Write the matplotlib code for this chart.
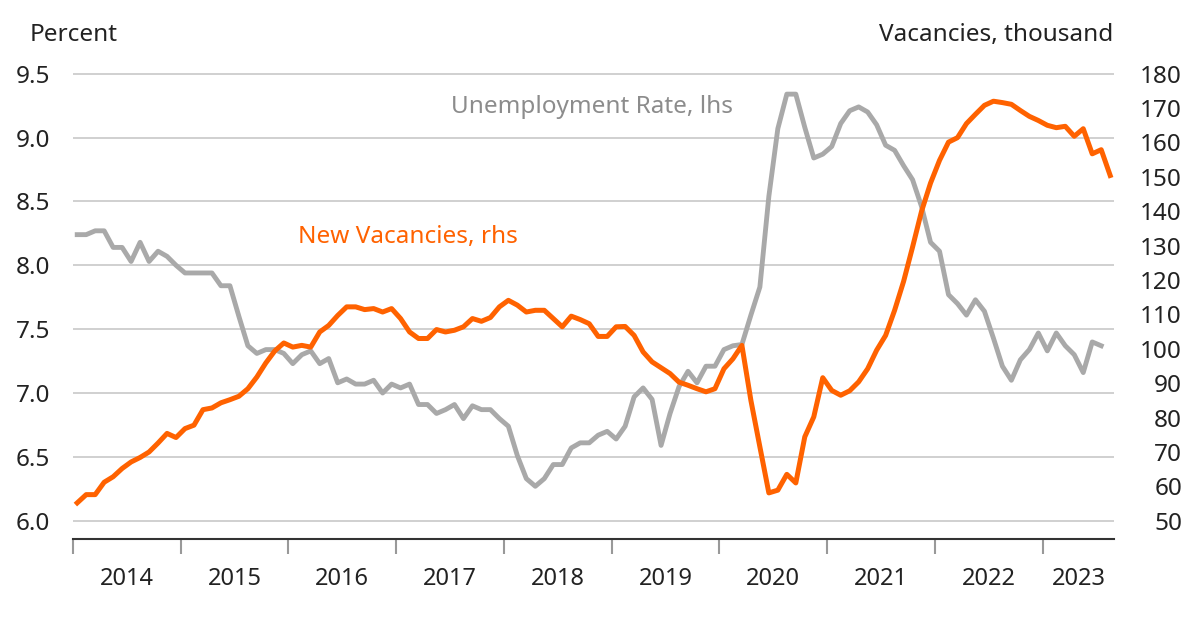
import numpy as np
import matplotlib
matplotlib.use("Agg")
from matplotlib import pyplot as plt
from matplotlib.ticker import FixedLocator, NullFormatter

plt.rcParams['font.family'] = ['Noto Sans', 'DejaVu Sans']

# monthly data, Jan 2014 onwards
unemployment = [
    8.24, 8.24, 8.27, 8.27, 8.14, 8.14, 8.03, 8.18, 8.03, 8.11, 8.07, 8.00,
    7.94, 7.94, 7.94, 7.94, 7.84, 7.84, 7.60, 7.37, 7.31, 7.34, 7.34, 7.31,
    7.23, 7.30, 7.33, 7.23, 7.27, 7.08, 7.11, 7.07, 7.07, 7.10, 7.00, 7.07,
    7.04, 7.07, 6.91, 6.91, 6.84, 6.87, 6.91, 6.80, 6.90, 6.87, 6.87, 6.80,
    6.74, 6.51, 6.33, 6.27, 6.33, 6.44, 6.44, 6.57, 6.61, 6.61, 6.67, 6.70,
    6.64, 6.74, 6.97, 7.04, 6.95, 6.59, 6.84, 7.05, 7.17, 7.08, 7.21, 7.21,
    7.34, 7.37, 7.38, 7.61, 7.83, 8.54, 9.07, 9.34, 9.34, 9.08, 8.84, 8.87,
    8.93, 9.11, 9.21, 9.24, 9.20, 9.10, 8.94, 8.90, 8.78, 8.67, 8.46, 8.18,
    8.11, 7.77, 7.70, 7.61, 7.73, 7.64, 7.43, 7.21, 7.10, 7.26, 7.34, 7.47,
    7.33, 7.47, 7.37, 7.30, 7.16, 7.40, 7.37,
]
vacancies = [
    55.2, 57.6, 57.6, 61.2, 62.8, 65.2, 67.1, 68.4, 70.0, 72.6, 75.4, 74.2,
    76.8, 77.8, 82.3, 82.8, 84.3, 85.2, 86.2, 88.4, 91.8, 95.9, 99.4, 101.7,
    100.5, 101.0, 100.5, 104.9, 106.8, 109.7, 112.2, 112.2, 111.4, 111.7, 110.7, 111.7,
    108.8, 104.9, 103.0, 103.0, 105.6, 104.9, 105.4, 106.4, 108.8, 108.0, 109.1, 112.2,
    114.1, 112.7, 110.7, 111.2, 111.2, 108.8, 106.4, 109.5, 108.5, 107.3, 103.6, 103.6,
    106.4, 106.5, 103.9, 99.1, 96.2, 94.5, 92.8, 90.3, 89.4, 88.4, 87.5, 88.4,
    94.2, 97.1, 101.0, 85.0, 71.5, 58.1, 58.9, 63.5, 61.0, 74.4, 80.2, 91.6,
    87.9, 86.5, 87.8, 90.4, 94.2, 99.6, 103.9, 111.2, 119.6, 129.6, 140.0, 148.2,
    154.8, 160.1, 161.4, 165.5, 168.2, 170.8, 172.0, 171.6, 171.1, 169.3, 167.6, 166.4,
    165.0, 164.3, 164.7, 161.8, 164.0, 156.7, 157.9, 150.4,
]
years = list(range(2014, 2024))
left_ticks = [6.0, 6.5, 7.0, 7.5, 8.0, 8.5, 9.0, 9.5]
right_ticks = list(range(50, 190, 10))

GREY = '#a9a9a9'
ORANGE = '#ff6200'

x_u = 2014 + (np.arange(len(unemployment)) + 0.5) / 12
x_v = 2014 + (np.arange(len(vacancies)) + 0.5) / 12

fig = plt.figure(figsize=(12, 6.19), dpi=100)
ax = fig.add_axes([0.0606, 0.1292, 0.8677, 0.7538])
ax2 = ax.twinx()

lo, hi = 5.857, 9.51
ax.set_ylim(lo, hi)
to_r = lambda v: 50 + (v - 6) * 130 / 3.5
ax2.set_ylim(to_r(lo), to_r(hi))
x_end = 2023.66
ax.set_xlim(2014, x_end)

ax.set_yticks(left_ticks)
ax.set_yticklabels(['%.1f' % t for t in left_ticks])
ax2.set_yticks(right_ticks)
ax.grid(axis='y', color='#c8c8c8', linewidth=1.2)
ax.set_axisbelow(True)

ax.plot(x_u, unemployment, color=GREY, linewidth=3.5, zorder=3)
ax2.plot(x_v, vacancies, color=ORANGE, linewidth=3.6, zorder=3)

for a in (ax, ax2):
    for s in ('top', 'right', 'left'):
        a.spines[s].set_visible(False)
ax2.spines['bottom'].set_visible(False)
ax.spines['bottom'].set_color('#333333')
ax.spines['bottom'].set_linewidth(1.5)

# year labels sit in the middle of the visible part of each year
label_pos = [(y + min(y + 1, x_end)) / 2 for y in years]
ax.xaxis.set_major_locator(FixedLocator(years))
ax.xaxis.set_major_formatter(NullFormatter())
ax.xaxis.set_minor_locator(FixedLocator(label_pos))
ax.set_xticklabels([str(y) for y in years], minor=True)
ax.tick_params(axis='x', which='major', length=11, width=1.5, color='#999999', direction='out')
ax.tick_params(axis='x', which='minor', length=0, pad=20, labelsize=17, labelcolor='#222222')
ax.tick_params(axis='y', length=0, pad=16, labelsize=17.5, labelcolor='#222222')
ax2.tick_params(axis='y', length=0, pad=49, labelsize=17.5, labelcolor='#222222')
for lab in ax2.get_yticklabels():
    lab.set_horizontalalignment('right')

fig.text(30 / 1200, 1 - 35 / 619, 'Percent', fontsize=17.5, color='#222222', ha='left', va='center')
fig.text(1113 / 1200, 1 - 35 / 619, 'Vacancies, thousand', fontsize=17.5, color='#222222', ha='right', va='center')
ax.text(2018.82, 9.236, 'Unemployment Rate, lhs', fontsize=17.5, color='#8c8c8c', ha='center', va='center')
ax.text(2017.11, 8.22, 'New Vacancies, rhs', fontsize=17.5, color=ORANGE, ha='center', va='center')

fig.savefig('out.png', dpi=100)
